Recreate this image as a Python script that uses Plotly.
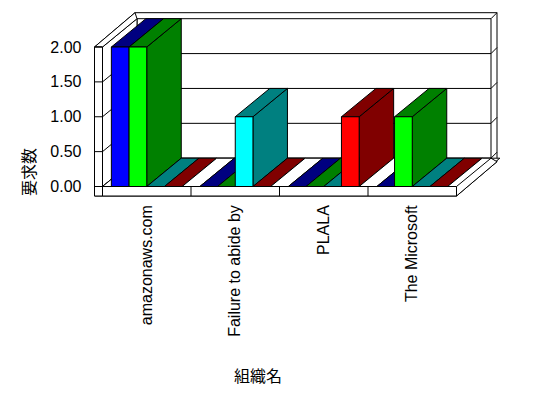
import plotly.graph_objects as go

# ---------------- data ----------------
categories = ["amazonaws.com", "Failure to abide by", "PLALA", "The Microsoft"]
series_blue = [2, 0, 0, 0]
series_lime = [2, 0, 0, 1]
series_cyan = [0, 1, 0, 0]
series_red = [0, 0, 1, 0]
series_white = [0, 0, 0, 0]
y_ticks = [0, 0.5, 1.0, 1.5, 2.0]
y_title = "要求数"
x_title = "組織名"

series = [series_blue, series_lime, series_cyan, series_red, series_white]
front_colors = ["#0000FF", "#00FF00", "#00FFFF", "#FF0000", "#FFFFFF"]
dark_colors = ["#000080", "#008000", "#008080", "#800000", "#FFFFFF"]

# ---------------- layout geometry (pixels -> data scale) ----------------
W, H = 548, 398
PX_X0, PX_PER_CAT = 102.5, 88.5      # pixel of category edge -0.5, pixels per category
PX_Y0, PX_PER_UNIT = 186.5, 69.75    # pixel of value 0, pixels per value unit
xmin = -0.5 - PX_X0 / PX_PER_CAT
xmax = xmin + W / PX_PER_CAT
vmax = PX_Y0 / PX_PER_UNIT
vmin = vmax - H / PX_PER_UNIT

ncat = len(categories)
vtop = max(y_ticks)
XL, XR = -0.5, ncat - 0.5
DX, DV = 34.5 / PX_PER_CAT, 28.3 / PX_PER_UNIT          # inner depth
ODX, ODV = 40.5 / PX_PER_CAT, 34.3 / PX_PER_UNIT        # outer depth
TW = 8.0 / PX_PER_CAT                                   # left wall thickness
TF = 9.5 / PX_PER_UNIT                                  # floor thickness
nser = len(series)
slot = 1.0 / nser
bar_off = 0.1

fig = go.Figure()


def poly(xs, ys, fill="#FFFFFF"):
    fig.add_trace(go.Scatter(
        x=list(xs) + [xs[0]], y=list(ys) + [ys[0]], mode="lines", fill="toself",
        fillcolor=fill, line=dict(color="black", width=1),
        hoverinfo="skip", showlegend=False))


def seg(xs, ys):
    fig.add_trace(go.Scatter(
        x=xs, y=ys, mode="lines", line=dict(color="black", width=1),
        hoverinfo="skip", showlegend=False))


# outer frame silhouette
xlo = XL - TW
poly([xlo, XR, XR + ODX, XR + ODX, xlo + ODX, xlo],
     [-TF, -TF, -TF + ODV, vtop + ODV, vtop + ODV, vtop])

# back wall inner face
poly([XL + DX, XR + DX, XR + DX, XL + DX], [DV, DV, vtop + DV, vtop + DV])
gx, gy = [], []
for t in y_ticks:
    if 0 < t < vtop:
        gx += [XL + DX, XR + DX, None]
        gy += [t + DV, t + DV, None]
    gx += [XR + DX, XR + ODX, None]
    gy += [t + DV, t + ODV, None]
seg(gx, gy)

# left wall inner face + top face
poly([XL, XL, XL + DX, XL + DX], [0, vtop, vtop + DV, DV])
poly([xlo, XL, XL + DX, xlo + ODX], [vtop, vtop, vtop + DV, vtop + ODV])
gx, gy = [], []
for t in y_ticks:
    if t < vtop:
        gx += [XL, XL + DX, None]
        gy += [t, t + DV, None]
seg(gx, gy)

# floor top
poly([XL, XR, XR + DX, XL + DX], [0, 0, DV, DV])

# bars (left to right)
for c in range(ncat):
    for i in range(nser):
        v = series[i][c]
        x0 = c - 0.5 + bar_off + i * slot
        x1 = x0 + slot
        if v > 0:
            poly([x1, x1, x1 + DX, x1 + DX], [0, v, v + DV, DV], dark_colors[i])
        poly([x0, x1, x1 + DX, x0 + DX], [v, v, v + DV, v + DV], dark_colors[i])
        if v > 0:
            poly([x0, x1, x1, x0], [0, 0, v, v], front_colors[i])

# floor front slab and right end
poly([XL, XR, XR, XL], [-TF, -TF, 0, 0])
poly([XR, XR, XR + ODX, XR + DX], [0, -TF, -TF + ODV, DV])
gx, gy = [], []
for c in range(ncat - 1):
    gx += [c + 0.5, c + 0.5, None]
    gy += [-TF, 0, None]
seg(gx, gy)

# left wall front slab
poly([xlo, XL, XL, xlo], [-TF, -TF, vtop, vtop])
gx, gy = [], []
for t in y_ticks:
    gx += [xlo, XL, None]
    gy += [t, t, None]
seg(gx, gy)

font = "Liberation Sans, Arial, Noto Sans CJK JP"
fig.update_layout(
    template="none",
    width=W, height=H,
    margin=dict(l=0, r=0, t=0, b=0),
    paper_bgcolor="white", plot_bgcolor="white",
    showlegend=False,
    xaxis=dict(range=[xmin, xmax], domain=[0, 1], showgrid=False, zeroline=False,
               showline=False, tickmode="array", tickvals=list(range(ncat)),
               ticktext=categories, tickangle=-90, ticks="",
               anchor="free", position=1 - 196 / H, automargin=False,
               ticklabelstandoff=5,
               tickfont=dict(family=font, size=16, color="black")),
    yaxis=dict(range=[vmin, vmax], domain=[0, 1], showgrid=False, zeroline=False,
               showline=False, tickmode="array", tickvals=y_ticks,
               tickformat=".2f", ticks="",
               anchor="free", position=94.5 / W, automargin=False,
               ticklabelstandoff=13,
               tickfont=dict(family=font, size=16, color="black")),
    annotations=[
        dict(text=y_title, x=28 / W, y=1 - 172 / H, xref="paper", yref="paper",
             xanchor="center", yanchor="middle",
             showarrow=False, textangle=-90,
             font=dict(family="Noto Sans CJK JP", size=16, color="black")),
        dict(text=x_title, x=258 / W, y=1 - 375 / H, xref="paper", yref="paper",
             xanchor="center", yanchor="middle",
             showarrow=False,
             font=dict(family="Noto Sans CJK JP", size=16, color="black")),
    ],
)

fig.write_html("out.html")
